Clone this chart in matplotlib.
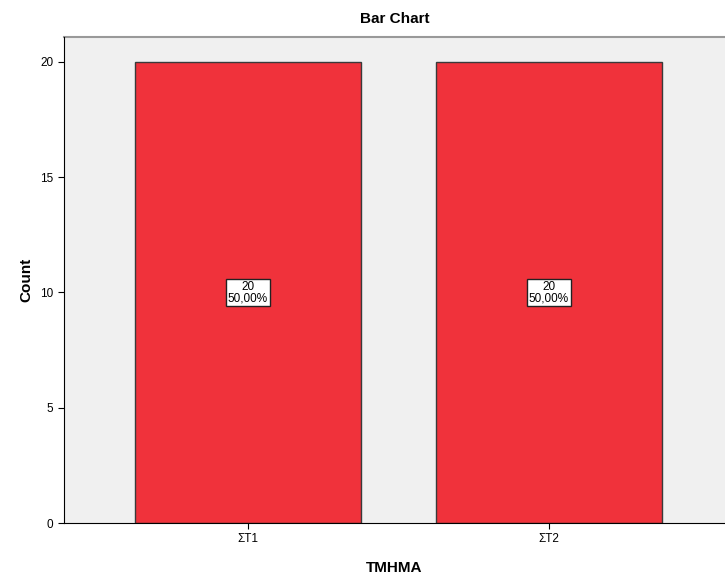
import matplotlib.pyplot as plt
import numpy as np

plt.rcParams["font.family"] = ["Liberation Sans", "DejaVu Sans"]

categories = ["ΣΤ1", "ΣΤ2"]
counts = [20, 20]
percents = ["50,00%", "50,00%"]

fig = plt.figure(figsize=(7.25, 5.76), dpi=100)
ax = fig.add_axes([0.0883, 0.092, 0.9117, 0.8438])
ax.set_facecolor("#f0f0f0")

x = np.arange(len(categories))
ax.bar(x, counts, width=0.75, color="#f0323b", edgecolor="#3a3a3a", linewidth=1.0, zorder=2)

for xi, c, p in zip(x, counts, percents):
    ax.text(xi, c / 2, f"{c}\n{p}", ha="center", va="center", fontsize=8.5,
            linespacing=0.95, zorder=3,
            bbox=dict(boxstyle="square,pad=0.15", facecolor="white", edgecolor="#222222", linewidth=1.0))

ax.set_xlim(-0.611, 1.585)
ax.set_ylim(0, 21.08)
ax.set_xticks(x)
ax.set_xticklabels(categories, fontsize=8)
ax.set_yticks([0, 5, 10, 15, 20])
ax.tick_params(axis="both", labelsize=8.5, length=4, color="black")

for side in ["top", "right"]:
    ax.spines[side].set_visible(False)
ax.spines["left"].set_color("black")
ax.spines["bottom"].set_color("black")
ax.axhline(21.08, color="#999999", linewidth=1.5, clip_on=False, zorder=1)

ax.set_title("Bar Chart", fontsize=11, fontweight="bold", pad=10)
ax.set_xlabel("TMHMA", fontsize=11, fontweight="bold", labelpad=11)
ax.set_ylabel("Count", fontsize=11, fontweight="bold", labelpad=5)

fig.savefig("out.png", dpi=100)
